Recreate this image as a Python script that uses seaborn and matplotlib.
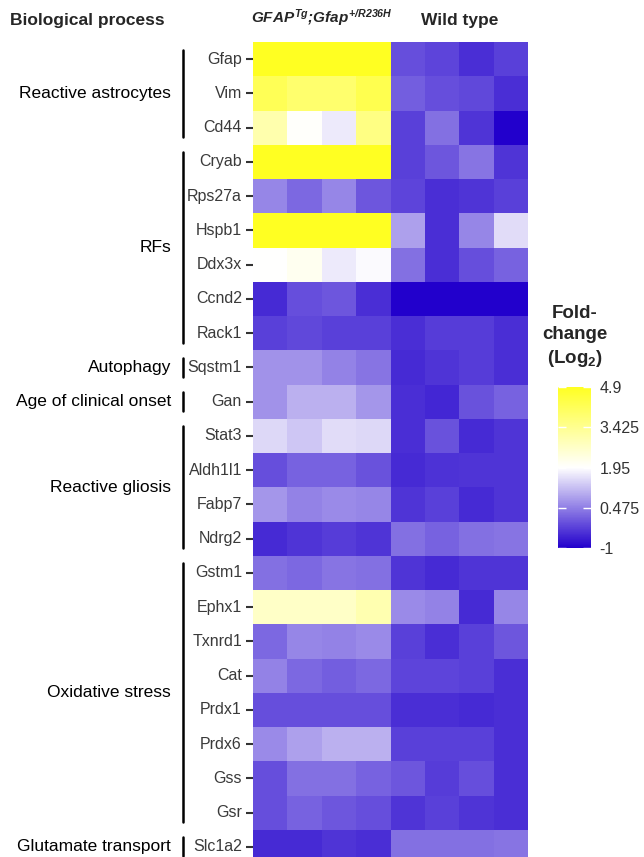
import matplotlib
matplotlib.use("Agg")
import matplotlib.pyplot as plt
import matplotlib.transforms as mtransforms
from matplotlib.colors import LinearSegmentedColormap
import numpy as np
import pandas as pd
import seaborn as sns

# genes (rows) and log2 fold-change values
genes = ["Gfap", "Vim", "Cd44", "Cryab", "Rps27a", "Hspb1", "Ddx3x", "Ccnd2",
         "Rack1", "Sqstm1", "Gan", "Stat3", "Aldh1l1", "Fabp7", "Ndrg2",
         "Gstm1", "Ephx1", "Txnrd1", "Cat", "Prdx1", "Prdx6", "Gss", "Gsr",
         "Slc1a2"]

tg_values = [
    [4.9, 4.9, 4.9, 4.9],
    [4.2, 3.9, 3.9, 4.3],
    [3.05, 2.0, 1.7, 3.6],
    [4.9, 4.9, 4.9, 4.9],
    [0.55, 0.2, 0.55, 0.0],
    [4.9, 4.9, 4.9, 4.9],
    [1.95, 2.15, 1.7, 1.9],
    [-0.5, -0.1, 0.0, -0.45],
    [-0.25, -0.15, -0.25, -0.25],
    [0.7, 0.7, 0.5, 0.35],
    [0.7, 1.05, 1.05, 0.75],
    [1.5, 1.3, 1.55, 1.5],
    [-0.1, 0.15, 0.15, -0.05],
    [0.75, 0.5, 0.6, 0.55],
    [-0.5, -0.4, -0.3, -0.4],
    [0.3, 0.2, 0.35, 0.3],
    [2.7, 2.7, 2.7, 3.0],
    [0.2, 0.55, 0.5, 0.6],
    [0.5, 0.2, 0.1, 0.2],
    [-0.1, -0.1, -0.1, -0.1],
    [0.6, 0.85, 1.05, 1.05],
    [-0.1, 0.3, 0.3, 0.15],
    [-0.1, 0.15, 0.0, -0.1],
    [-0.5, -0.5, -0.4, -0.45],
]

wt_values = [
    [-0.1, -0.2, -0.45, -0.25],
    [0.1, -0.1, -0.15, -0.45],
    [-0.25, 0.3, -0.4, -1.0],
    [-0.25, 0.0, 0.35, -0.4],
    [-0.2, -0.45, -0.4, -0.25],
    [0.85, -0.45, 0.55, 1.55],
    [0.3, -0.45, -0.1, 0.15],
    [-1.0, -1.0, -1.0, -1.0],
    [-0.45, -0.3, -0.3, -0.45],
    [-0.5, -0.4, -0.3, -0.45],
    [-0.45, -0.55, -0.05, 0.15],
    [-0.45, -0.05, -0.5, -0.4],
    [-0.5, -0.42, -0.4, -0.4],
    [-0.4, -0.25, -0.5, -0.4],
    [0.3, 0.15, 0.3, 0.35],
    [-0.4, -0.5, -0.4, -0.4],
    [0.6, 0.5, -0.5, 0.55],
    [-0.25, -0.45, -0.25, 0.0],
    [-0.2, -0.2, -0.25, -0.45],
    [-0.45, -0.45, -0.5, -0.45],
    [-0.25, -0.25, -0.25, -0.45],
    [0.0, -0.3, -0.1, -0.45],
    [-0.4, -0.25, -0.4, -0.45],
    [0.3, 0.3, 0.3, 0.35],
]

groups = [("Reactive astrocytes", 0, 3), ("RFs", 3, 9), ("Autophagy", 9, 10),
          ("Age of clinical onset", 10, 11), ("Reactive gliosis", 11, 15),
          ("Oxidative stress", 15, 23), ("Glutamate transport", 23, 24)]

cbar_ticks = [-1, 0.475, 1.95, 3.425, 4.9]
cbar_labels = ["-1", "0.475", "1.95", "3.425", "4.9"]

sns.set_theme(style="white")
plt.rcParams["font.family"] = ["Liberation Sans", "DejaVu Sans"]
plt.rcParams["mathtext.fontset"] = "custom"
plt.rcParams["mathtext.rm"] = "Liberation Sans:italic:bold"
plt.rcParams["mathtext.it"] = "Liberation Sans:italic:bold"
plt.rcParams["mathtext.bf"] = "Liberation Sans:bold"

cols = ["tg1", "tg2", "tg3", "tg4", "wt1", "wt2", "wt3", "wt4"]
data = np.hstack([np.array(tg_values), np.array(wt_values)])
df = pd.DataFrame(data, index=genes, columns=cols)

cmap = LinearSegmentedColormap.from_list("bwy", ["#2200CC", "#FFFFFF", "#FFFF22"])

W, H = 644, 857
fig = plt.figure(figsize=(W / 100, H / 100), dpi=100)
ax = fig.add_axes([253 / W, 1 - 864 / H, 275 / W, 822 / H])
cax = fig.add_axes([558 / W, 1 - 548 / H, 33 / W, 161 / H])

sns.heatmap(df, ax=ax, cmap=cmap, vmin=-1, vmax=4.9, cbar_ax=cax,
            xticklabels=False, yticklabels=True)

ax.set_ylabel("")
ax.set_xlabel("")
ax.tick_params(axis="y", left=True, length=5, width=1.5, pad=3,
               labelsize=11.5, colors="#333333", rotation=0)
for t in ax.get_yticklabels():
    t.set_color("#3a3a3a")

# group brackets and labels
trans = mtransforms.blended_transform_factory(ax.transAxes, ax.transData)
xline = (183 - 253) / 275
xlab = (171 - 253) / 275
for name, start, end in groups:
    ax.plot([xline, xline], [start + 0.22, end - 0.22], color="black",
            lw=1.8, transform=trans, clip_on=False)
    ax.text(xlab, (start + end) / 2, name, transform=trans, ha="right",
            va="center", fontsize=12.5, color="black")

# colorbar styling
cb = ax.collections[0].colorbar
cb.outline.set_visible(False)
cb.set_ticks(cbar_ticks)
cb.set_ticklabels(cbar_labels)
cax.set_axisbelow(False)
cax.yaxis.set_ticks_position("both")
cax.tick_params(axis="y", direction="in", color="white", length=6, width=1,
                labelsize=11.5, labelcolor="#333333", pad=6, left=True,
                right=True, labelleft=False, labelright=True)

fig.text(575 / W, 1 - 337 / H, "Fold-\nchange\n(Log$\\mathbf{_2}$)",
         ha="center", va="center", fontsize=13.5, fontweight="bold",
         linespacing=1.3)

# headers
fig.text(10 / W, 1 - 20 / H, "Biological process", ha="left", va="center",
         fontsize=12.5, fontweight="bold")
fig.text(322 / W, 1 - 18 / H, "$GFAP^{Tg}$;$Gfap^{+/R236H}$", ha="center",
         va="center", fontsize=11, fontweight="bold", fontstyle="italic")
fig.text(460 / W, 1 - 20 / H, "Wild type", ha="center", va="center",
         fontsize=12.5, fontweight="bold")

fig.savefig("out.png", dpi=100)
